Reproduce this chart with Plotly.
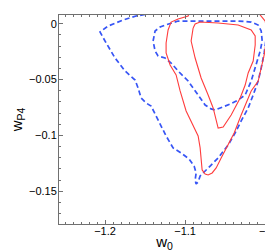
import plotly.graph_objects as go

# Contour traces (w0, wP4)
blue_outer_w0 = [-0.99875, -0.9975, -0.9975, -0.99875, -1.00125, -1.005, -1.00875, -1.015, -1.02125,
                 -1.03, -1.0375, -1.04625, -1.05875, -1.06875, -1.07625, -1.08125, -1.08375, -1.08625,
                 -1.0875, -1.08625, -1.08875, -1.095, -1.105, -1.115, -1.12375, -1.13, -1.1375, -1.1425,
                 -1.14875, -1.155, -1.15875, -1.1625, -1.175, -1.1875, -1.2, -1.20625, -1.19625, -1.1775,
                 -1.16125, -1.14625, -1.13375, -1.12, -1.0]
blue_outer_wP4 = [0.02, 0.0051, -0.0038, -0.0128, -0.0262, -0.0396, -0.0513, -0.0638, -0.0754,
                  -0.087, -0.0978, -0.1086, -0.1202, -0.1274, -0.1327, -0.1363, -0.1417, -0.1435,
                  -0.1399, -0.1336, -0.1274, -0.1211, -0.1157, -0.1112, -0.1005, -0.0916, -0.0817, -0.0737,
                  -0.071, -0.0665, -0.0575, -0.0504, -0.0423, -0.0307, -0.0155, -0.0074, -0.0021, 0.0033,
                  0.0069, 0.0087, 0.0114, 0.02, 0.02]

blue_inner_w0 = [-1.14, -1.1375, -1.13125, -1.125, -1.10875, -1.075, -1.03375, -1.0175, -1.00875,
                 -1.005, -1.00375, -1.00625, -1.01125, -1.0175, -1.025, -1.03375, -1.04375, -1.05375,
                 -1.0625, -1.0675, -1.075, -1.08375, -1.09625, -1.10875, -1.1175, -1.125, -1.13375,
                 -1.1375, -1.14]
blue_inner_wP4 = [-0.0155, -0.0065, -0.003, -0.0012, 0.0024, 0.0024, 0.0024, 0.0015, -0.0012,
                  -0.0065, -0.0155, -0.0244, -0.037, -0.0513, -0.0638, -0.0683, -0.0719, -0.0746,
                  -0.0772, -0.0763, -0.0728, -0.0638, -0.0513, -0.0423, -0.0352, -0.0307, -0.0289,
                  -0.0244, -0.0155]

red_outer_w0 = [-1.09, -1.09625, -1.10875, -1.1175, -1.12125, -1.12375, -1.12375, -1.11875, -1.11125,
                -1.10625, -1.09875, -1.09, -1.08375, -1.08125, -1.08, -1.07875, -1.075, -1.07125,
                -1.06625, -1.06125, -1.055, -1.04625, -1.03875, -1.03, -1.0175, -1.00875, -1.005,
                -1.00125, -0.99875, -0.99875, -1.0, -1.00625, -1.01, -1.09]
red_outer_wP4 = [0.02, 0.0069, 0.0042, 0.0015, -0.0056, -0.0173, -0.0262, -0.037, -0.0459,
                 -0.0602, -0.0781, -0.0907, -0.1005, -0.1112, -0.1246, -0.1309, -0.1345, -0.1354,
                 -0.1336, -0.1291, -0.1202, -0.1086, -0.0978, -0.0817, -0.0602, -0.0513, -0.0396,
                 -0.028, -0.0155, -0.0038, 0.0024, 0.0078, 0.02, 0.02]

red_inner_w0 = [-1.09, -1.0875, -1.08125, -1.05875, -1.03375, -1.0175, -1.0125, -1.0125, -1.015,
                -1.02125, -1.025, -1.03125, -1.0425, -1.0525, -1.05875, -1.06125, -1.065, -1.07125,
                -1.08, -1.0875, -1.0925, -1.09]
red_inner_wP4 = [-0.0038, -0.0003, 0.0015, 0.0006, -0.0012, -0.0056, -0.011, -0.0191, -0.0334,
                 -0.0441, -0.0549, -0.0665, -0.0817, -0.0925, -0.0934, -0.0871, -0.0754, -0.0638,
                 -0.0486, -0.0307, -0.0155, -0.0038]

x_ticks = [-1.2, -1.1, -1.0]
x_labels = ["\u22121.2", "\u22121.1", "\u22121"]
y_ticks = [0, -0.05, -0.1, -0.15]
y_labels = ["0", "\u22120.05", "\u22120.1", "\u22120.15"]

BLUE = "rgb(55,85,245)"
RED = "rgb(255,60,60)"

fig = go.Figure()
fig.add_trace(go.Scatter(x=blue_outer_w0, y=blue_outer_wP4, mode="lines",
                         line=dict(color=BLUE, width=1.7, dash="5px,3px")))
fig.add_trace(go.Scatter(x=blue_inner_w0, y=blue_inner_wP4, mode="lines",
                         line=dict(color=BLUE, width=1.7, dash="5px,3px")))
fig.add_trace(go.Scatter(x=red_outer_w0, y=red_outer_wP4, mode="lines",
                         line=dict(color=RED, width=1.1)))
fig.add_trace(go.Scatter(x=red_inner_w0, y=red_inner_wP4, mode="lines",
                         line=dict(color=RED, width=1.1)))

axis_common = dict(showgrid=False, zeroline=False, showline=True, linecolor="#707070",
                   linewidth=1, mirror="allticks", ticks="inside", ticklen=4, tickcolor="#707070",
                   automargin=False,
                   tickfont=dict(family="Liberation Sans, Arial", size=11, color="black"))

fig.update_layout(
    width=273, height=252,
    margin=dict(l=51, r=11, t=7, b=36),
    paper_bgcolor="white", plot_bgcolor="white",
    showlegend=False,
    xaxis=dict(range=[-1.2575, -0.994], tickvals=x_ticks, ticktext=x_labels,
               ticklabelstandoff=-3,
               minor=dict(dtick=0.01, tick0=-1.2, ticks="inside", ticklen=2, tickcolor="#707070"),
               title=dict(text="w<sub>0</sub>", standoff=0,
                          font=dict(family="Liberation Sans, Arial", size=15, color="black")),
               **axis_common),
    yaxis=dict(range=[-0.1793, 0.0078], tickvals=y_ticks, ticktext=y_labels,
               ticklabelstandoff=-1,
               minor=dict(dtick=0.01, tick0=0, ticks="inside", ticklen=2, tickcolor="#707070"),
               title=dict(text="w<sub>P4</sub>", standoff=2,
                          font=dict(family="Liberation Sans, Arial", size=15, color="black")),
               **axis_common),
)

fig.write_html("out.html")
